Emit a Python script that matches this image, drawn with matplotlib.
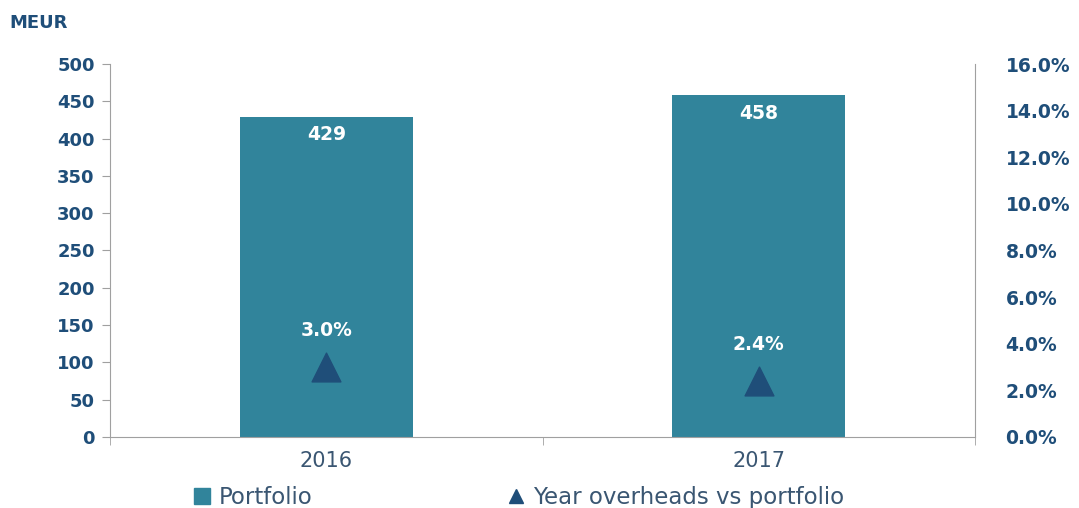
import matplotlib.pyplot as plt
from matplotlib.lines import Line2D
from matplotlib.patches import Patch

years = ["2016", "2017"]
portfolio = [429, 458]
overheads_pct = [3.0, 2.4]

bar_color = "#31849b"
tri_color = "#1f4e79"
text_color = "#1f4e79"
label_color = "#3a5672"

plt.rcParams["font.family"] = ["DejaVu Sans"]

fig = plt.figure(figsize=(10.79, 5.08), dpi=100)
ax = fig.add_axes([0.102, 0.14, 0.8016, 0.734])
ax2 = ax.twinx()

x = list(range(len(years)))
ax.bar(x, portfolio, width=0.4, color=bar_color, zorder=2)
for xi, v in zip(x, portfolio):
    ax.text(xi, v - 11, f"{v}", ha="center", va="top", color="white",
            fontsize=13.5, fontweight="bold")

ax2.scatter(x, overheads_pct, marker="^", s=430, color=tri_color, zorder=3)
for xi, p in zip(x, overheads_pct):
    ax2.text(xi, p + 1.15, f"{p:.1f}%", ha="center", va="bottom", color="white",
             fontsize=13.5, fontweight="bold")

ax.set_xlim(-0.5, 1.5)
ax.set_ylim(0, 500)
ax.set_yticks(range(0, 501, 50))
ax2.set_ylim(0, 16)
ax2.set_yticks([i * 2 for i in range(9)])
ax2.set_yticklabels([f"{i * 2:.1f}%" for i in range(9)])

ax.set_xticks(x)
ax.set_xticklabels(years)
ax.set_xticks([-0.5, 0.5, 1.5], minor=True)
ax.tick_params(axis="x", which="major", length=0, pad=10, labelsize=15,
               labelcolor=label_color)
ax.tick_params(axis="x", which="minor", length=6, color="#a0a0a0")
ax.tick_params(axis="y", length=6, color="#a0a0a0", labelsize=13,
               labelcolor=text_color, pad=5)
for lab in ax.get_yticklabels():
    lab.set_fontweight("bold")
ax2.tick_params(axis="y", length=0, labelsize=13.5, labelcolor=text_color, pad=22)
for lab in ax2.get_yticklabels():
    lab.set_fontweight("bold")

for a in (ax, ax2):
    a.spines["top"].set_visible(False)
    for s in ("left", "right", "bottom"):
        a.spines[s].set_color("#a0a0a0")
ax.spines["right"].set_visible(False)
ax2.spines["left"].set_visible(False)
ax2.spines["bottom"].set_visible(False)

fig.text(0.009, 0.955, "MEUR", color=text_color, fontsize=13, fontweight="bold",
         ha="left", va="center")

handles = [Patch(color=bar_color, label="Portfolio"),
           Line2D([], [], marker="^", linestyle="none", color=tri_color,
                  markersize=10, label="Year overheads vs portfolio")]
leg = fig.legend(handles=handles, loc="center", bbox_to_anchor=(0.481, 0.02),
                 ncol=2, frameon=False, fontsize=16.5, handlelength=0.7,
                 handletextpad=0.4, columnspacing=8.5)
for t in leg.get_texts():
    t.set_color(label_color)

fig.savefig("out.png", dpi=100)
